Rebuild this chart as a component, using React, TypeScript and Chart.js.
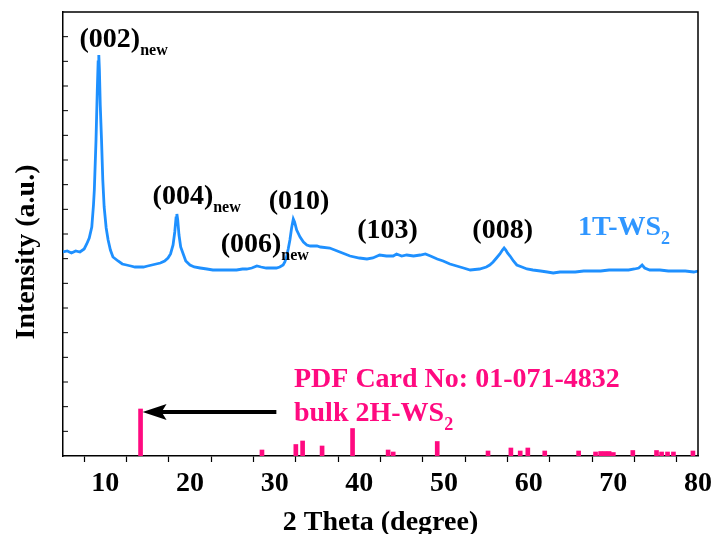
import React, { useEffect, useRef } from "react";
import { Chart, registerables } from "chart.js";

Chart.register(...registerables);

// XRD pattern of 1T-WS2 (2θ in degrees, intensity in arbitrary units)
const xrdAngle = [
  5.0, 5.5, 6.0, 6.5, 7.0, 7.5, 7.8, 8.1, 8.4, 8.6, 8.7, 8.9, 9.05, 9.15, 9.23, 9.3, 9.4, 9.55, 9.7, 9.86,
  10.1, 10.33, 10.6, 10.9, 11.5, 12.0, 12.5, 13.0, 13.5, 14.0, 14.5, 15.0, 15.5, 16.0, 16.5, 17.0, 17.4, 17.7, 18.0, 18.2,
  18.35, 18.45, 18.55, 18.7, 18.9, 19.2, 19.5, 20.0, 20.5, 21.2, 22.0, 22.7, 23.5, 24.7, 25.5, 26.2, 26.7, 27.3, 27.9, 28.4,
  29.0, 29.6, 30.2, 30.6, 31.0, 31.2, 31.4, 31.6, 31.8, 32.0, 32.2, 32.35, 32.6, 33.0, 33.4, 33.8, 34.2, 35.0, 35.4, 36.5,
  37.7, 38.9, 40.0, 40.9, 41.6, 42.4, 43.2, 44.0, 44.4, 45.0, 45.6, 46.4, 47.2, 47.8, 48.4, 49.2, 49.9, 50.7, 51.5, 52.3,
  53.1, 54.2, 55.0, 55.4, 55.8, 56.2, 56.6, 56.9, 57.1, 57.3, 57.5, 57.8, 58.2, 58.6, 59.2, 59.8, 60.5, 61.4, 62.2, 62.9,
  63.7, 64.5, 65.5, 66.5, 67.6, 68.5, 69.5, 70.8, 71.8, 72.5, 73.0, 73.4, 73.7, 74.3, 75.5, 76.5, 77.5, 78.5, 79.5, 80.0,
];
const xrdIntensity = [
  204, 205, 203, 205, 204, 207, 212, 218, 229, 251, 266, 316, 366, 394, 401, 386, 351, 316, 276, 249,
  228, 216, 206, 199, 195, 192, 191, 190, 189, 189, 189, 190, 191, 192, 193, 195, 198, 202, 211, 224,
  238, 242, 236, 221, 209, 202, 195, 191, 189, 188, 187, 186, 186, 186, 186, 187, 187, 188, 190, 189,
  188, 188, 188, 189, 191, 194, 199, 207, 216, 228, 237, 234, 226, 219, 214, 211, 210, 210, 209, 208,
  204, 200, 198, 197, 198, 201, 200, 200, 202, 200, 201, 200, 201, 202, 200, 197, 195, 192, 190, 188,
  186, 187, 189, 191, 194, 198, 202, 206, 208, 206, 203, 200, 195, 191, 189, 187, 186, 185, 184, 183,
  184, 184, 184, 185, 185, 185, 186, 186, 186, 187, 188, 191, 188, 186, 186, 185, 185, 185, 184, 185,
];

// PDF card 01-071-4832 (bulk 2H-WS2) reference lines
const pdfAngle = [
  14.16, 28.5, 32.5, 33.3, 35.6, 39.2, 43.4, 44.0, 49.2, 55.2, 57.9, 59.0, 59.9, 61.9, 65.9,
  67.9, 68.5, 69.0, 69.5, 70.0, 72.3, 75.1, 75.7, 76.4, 77.1, 79.4,
];
const pdfIntensity = [
  47, 6, 11.5, 15, 10, 27.5, 6, 4, 14.5, 5, 8, 5, 8, 5, 5,
  4, 4.5, 4.5, 4.5, 3.5, 5.5, 5.5, 4, 4, 4, 5,
];

const xTicks = [10, 20, 30, 40, 50, 60, 70, 80];

const BLUE = "#1E90FF";
const PINK = "#FF0A80";
const SERIF = "'Liberation Serif', 'Times New Roman', serif";

type Label = { text: string; sub?: string; x: number; y: number; color: string; align: "center" | "left" };

const peakLabels: Label[] = [
  { text: "(002)", sub: "new", x: 10.53, y: 409, color: "#000", align: "center" },
  { text: "(004)", sub: "new", x: 19.16, y: 252, color: "#000", align: "center" },
  { text: "(006)", sub: "new", x: 27.2, y: 204, color: "#000", align: "center" },
  { text: "(010)", x: 32.87, y: 247, color: "#000", align: "center" },
  { text: "(103)", x: 43.33, y: 218, color: "#000", align: "center" },
  { text: "(008)", x: 56.93, y: 218, color: "#000", align: "center" },
  { text: "1T-WS", sub: "2", x: 65.83, y: 221, color: "#2F96FF", align: "left" },
  { text: "PDF Card No: 01-071-4832", x: 32.28, y: 69, color: PINK, align: "left" },
  { text: "bulk 2H-WS", sub: "2", x: 32.28, y: 35, color: PINK, align: "left" },
];

const annotationPlugin = {
  id: "annotations",
  afterDatasetsDraw(chart: any) {
    const { ctx, chartArea } = chart;
    const xs = chart.scales.x;
    const ys = chart.scales.y;
    ctx.save();
    // frame (top & right)
    ctx.strokeStyle = "#000";
    ctx.lineWidth = 1.5;
    ctx.beginPath();
    ctx.moveTo(chartArea.left, chartArea.top);
    ctx.lineTo(chartArea.right, chartArea.top);
    ctx.lineTo(chartArea.right, chartArea.bottom);
    ctx.stroke();
    // inward y ticks
    const n = 18;
    ctx.lineWidth = 1;
    for (let i = 1; i < n; i++) {
      const py = ys.getPixelForValue((ys.max / n) * i);
      ctx.beginPath();
      ctx.moveTo(chartArea.left, py);
      ctx.lineTo(chartArea.left + 5, py);
      ctx.stroke();
    }
    // labels
    for (const l of peakLabels) {
      const px = xs.getPixelForValue(l.x);
      const py = ys.getPixelForValue(l.y);
      ctx.fillStyle = l.color;
      ctx.textBaseline = "alphabetic";
      ctx.font = `bold 28px ${SERIF}`;
      const w = ctx.measureText(l.text).width;
      const left = l.align === "center" ? px - w / 2 : px;
      ctx.textAlign = "left";
      ctx.fillText(l.text, left, py);
      if (l.sub) {
        const big = l.sub.length === 1;
        ctx.font = `bold ${big ? 18 : 16}px ${SERIF}`;
        ctx.fillText(l.sub, left + w, py + (big ? 9 : 8));
      }
    }
    // arrow
    const ax1 = xs.getPixelForValue(30.2);
    const ax2 = xs.getPixelForValue(14.4);
    const ay = ys.getPixelForValue(44);
    ctx.strokeStyle = "#000";
    ctx.fillStyle = "#000";
    ctx.lineWidth = 4;
    ctx.beginPath();
    ctx.moveTo(ax1, ay);
    ctx.lineTo(ax2 + 15, ay);
    ctx.stroke();
    ctx.beginPath();
    ctx.moveTo(ax2, ay);
    ctx.lineTo(ax2 + 24, ay - 8);
    ctx.lineTo(ax2 + 19, ay);
    ctx.lineTo(ax2 + 24, ay + 8);
    ctx.closePath();
    ctx.fill();
    // y title
    ctx.save();
    ctx.translate(27, 252);
    ctx.rotate(-Math.PI / 2);
    ctx.font = `bold 28px ${SERIF}`;
    ctx.fillStyle = "#000";
    ctx.textAlign = "center";
    ctx.textBaseline = "middle";
    ctx.fillText("Intensity (a.u.)", 0, 0);
    ctx.restore();
    ctx.restore();
  },
};

export default function App() {
  const ref = useRef<HTMLCanvasElement | null>(null);
  useEffect(() => {
    document.body.style.margin = "0";
    const canvas = ref.current;
    if (!canvas) return;
    const chart = new Chart(canvas, {
      type: "line",
      data: {
        datasets: [
          {
            type: "line",
            label: "1T-WS2",
            data: xrdAngle.map((x, i) => ({ x, y: xrdIntensity[i] })),
            borderColor: BLUE,
            borderWidth: 2.8,
            pointRadius: 0,
            tension: 0,
          },
          {
            type: "bar",
            label: "bulk 2H-WS2",
            data: pdfAngle.map((x, i) => ({ x, y: pdfIntensity[i] })),
            backgroundColor: PINK,
            barThickness: 4,
          } as any,
        ],
      },
      options: {
        animation: false,
        responsive: false,
        layout: { padding: { top: 12, right: 14, left: 0, bottom: 0 } },
        plugins: { legend: { display: false }, tooltip: { enabled: false } },
        scales: {
          x: {
            type: "linear",
            min: 5,
            max: 80,
            offset: false,
            afterFit: (s: any) => {
              s.height = 78;
              s.paddingLeft = 0;
              s.paddingRight = 0;
            },
            afterBuildTicks: (s: any) => {
              const t = [];
              for (let v = 5; v <= 80; v += 5) t.push({ value: v });
              s.ticks = t;
            },
            ticks: {
              autoSkip: false,
              maxRotation: 0,
              padding: 5,
              color: "#000",
              font: { family: SERIF, size: 28, weight: "bold" },
              callback: (v: any) => (xTicks.includes(Number(v)) ? String(v) : ""),
            },
            grid: { drawOnChartArea: false, tickLength: 6, color: "#000", tickWidth: 1.2 },
            border: { color: "#000", width: 1.5 },
            title: {
              display: true,
              text: "2 Theta (degree)",
              color: "#000",
              font: { family: SERIF, size: 28, weight: "bold", lineHeight: 0.8 },
              padding: { top: 0, bottom: 0 },
            },
          },
          y: {
            min: 0,
            max: 444,
            afterFit: (s: any) => {
              s.width = 63;
            },
            ticks: { display: false },
            grid: { display: false },
            border: { color: "#000", width: 1.5 },
          },
        },
      },
      plugins: [annotationPlugin],
    });
    return () => chart.destroy();
  }, []);
  return <canvas ref={ref} width={712} height={534} />;
}
